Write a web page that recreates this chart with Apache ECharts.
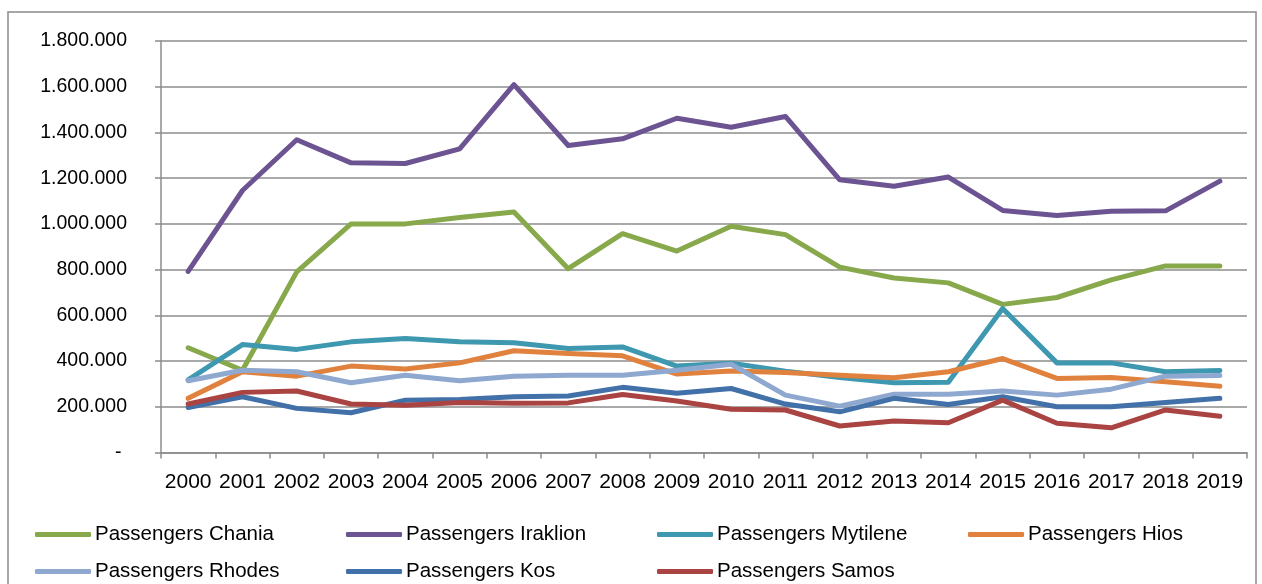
<!DOCTYPE html>
<html>
<head>
<meta charset="utf-8">
<script src="https://cdn.jsdelivr.net/npm/echarts@6/dist/echarts.min.js"></script>
<style>
  html, body { margin: 0; padding: 0; background: #ffffff; }
  #chart { width: 1262px; height: 584px; }
</style>
</head>
<body>
<div id="chart"></div>
<script>
// Yearly airport passengers, 2000–2019
const years = ['2000','2001','2002','2003','2004','2005','2006','2007','2008','2009',
               '2010','2011','2012','2013','2014','2015','2016','2017','2018','2019'];

const seriesNames = ['Passengers Chania', 'Passengers Iraklion', 'Passengers Mytilene',
                     'Passengers Hios', 'Passengers Rhodes', 'Passengers Kos', 'Passengers Samos'];

const chania   = [458000, 360000, 790000, 1000000, 1000000, 1028000, 1052000, 804000, 957000, 881000,
                  990000, 953000, 811000, 763000, 742000, 648000, 678000, 755000, 816000, 816000];
const iraklion = [792000, 1146000, 1368000, 1267000, 1264000, 1328000, 1609000, 1343000, 1372000, 1462000,
                  1423000, 1470000, 1193000, 1165000, 1205000, 1059000, 1037000, 1055000, 1057000, 1187000];
const mytilene = [318000, 472000, 451000, 484000, 499000, 484000, 480000, 455000, 462000, 378000,
                  390000, 356000, 328000, 305000, 307000, 630000, 392000, 392000, 353000, 359000];
const hios     = [237000, 353000, 334000, 378000, 365000, 392000, 445000, 433000, 423000, 343000,
                  356000, 350000, 338000, 327000, 353000, 411000, 324000, 328000, 309000, 290000];
const rhodes   = [314000, 360000, 353000, 305000, 338000, 314000, 334000, 338000, 338000, 360000,
                  386000, 251000, 203000, 255000, 255000, 269000, 251000, 277000, 334000, 337000];
const kos      = [197000, 244000, 193000, 174000, 229000, 232000, 244000, 247000, 285000, 259000,
                  280000, 212000, 178000, 237000, 210000, 244000, 200000, 200000, 219000, 237000];
const samos    = [212000, 263000, 269000, 212000, 207000, 219000, 215000, 217000, 254000, 225000,
                  189000, 186000, 116000, 138000, 130000, 229000, 128000, 108000, 186000, 159000];

const seriesValues = [chania, iraklion, mytilene, hios, rhodes, kos, samos];
const seriesColors = ['#87a84b', '#6c5391', '#3d98b0', '#e0823d', '#8fa8d0', '#4270a8', '#a94442'];

// Legend grid: four columns, two rows
const legendCols = [35, 346, 657, 968];
const legendRows = [524, 561];

const gridColor = '#8c8c8c';
const textColor = '#000000';

function formatThousands(v) {
  if (v === 0) return '- ';
  return String(Math.round(v)).replace(/\B(?=(\d{3})+(?!\d))/g, '.');
}

const chart = echarts.init(document.getElementById('chart'), null, { renderer: 'canvas' });

const legends = seriesNames.map((name, i) => ({
  data: [name],
  left: legendCols[i % 4],
  top: legendRows[Math.floor(i / 4)],
  padding: 0,
  icon: 'roundRect',
  itemWidth: 56,
  itemHeight: 5,
  itemGap: 0,
  selectedMode: false,
  textStyle: { fontFamily: 'Liberation Sans', fontSize: 20.5, color: textColor, padding: [0, 0, 0, -1] }
}));

const series = seriesNames.map((name, i) => ({
  name: name,
  type: 'line',
  data: seriesValues[i],
  showSymbol: false,
  symbol: 'none',
  smooth: false,
  color: seriesColors[i],
  lineStyle: { width: 5, color: seriesColors[i], cap: 'round', join: 'round' },
  itemStyle: { color: seriesColors[i] },
  z: 2 + i
}));

chart.setOption({
  animation: false,
  backgroundColor: '#ffffff',
  graphic: [{
    type: 'rect',
    shape: { x: 8, y: 12, width: 1248, height: 600 },
    style: { fill: 'none', stroke: '#8a8a8a', lineWidth: 1.5 },
    silent: true,
    z: -1
  }],
  grid: { left: 161, right: 15, top: 41, bottom: 131.5, containLabel: false },
  legend: legends,
  xAxis: {
    type: 'category',
    data: years,
    boundaryGap: true,
    axisLine: { show: true, lineStyle: { color: gridColor, width: 1.5 } },
    axisTick: { show: true, length: 6, alignWithLabel: false, lineStyle: { color: gridColor, width: 1.5 } },
    axisLabel: { fontFamily: 'Liberation Sans', fontSize: 21, color: textColor, margin: 19, interval: 0 },
    splitLine: { show: false }
  },
  yAxis: {
    type: 'value',
    min: 0,
    max: 1800000,
    interval: 200000,
    axisLine: { show: true, lineStyle: { color: gridColor, width: 1.5 } },
    axisTick: { show: true, length: 6, lineStyle: { color: gridColor, width: 1.5 } },
    axisLabel: { fontFamily: 'Liberation Sans', fontSize: 19.5, color: textColor, margin: 34, formatter: formatThousands },
    splitLine: { show: true, lineStyle: { color: gridColor, width: 1.5 } }
  },
  series: series
});
</script>
</body>
</html>
